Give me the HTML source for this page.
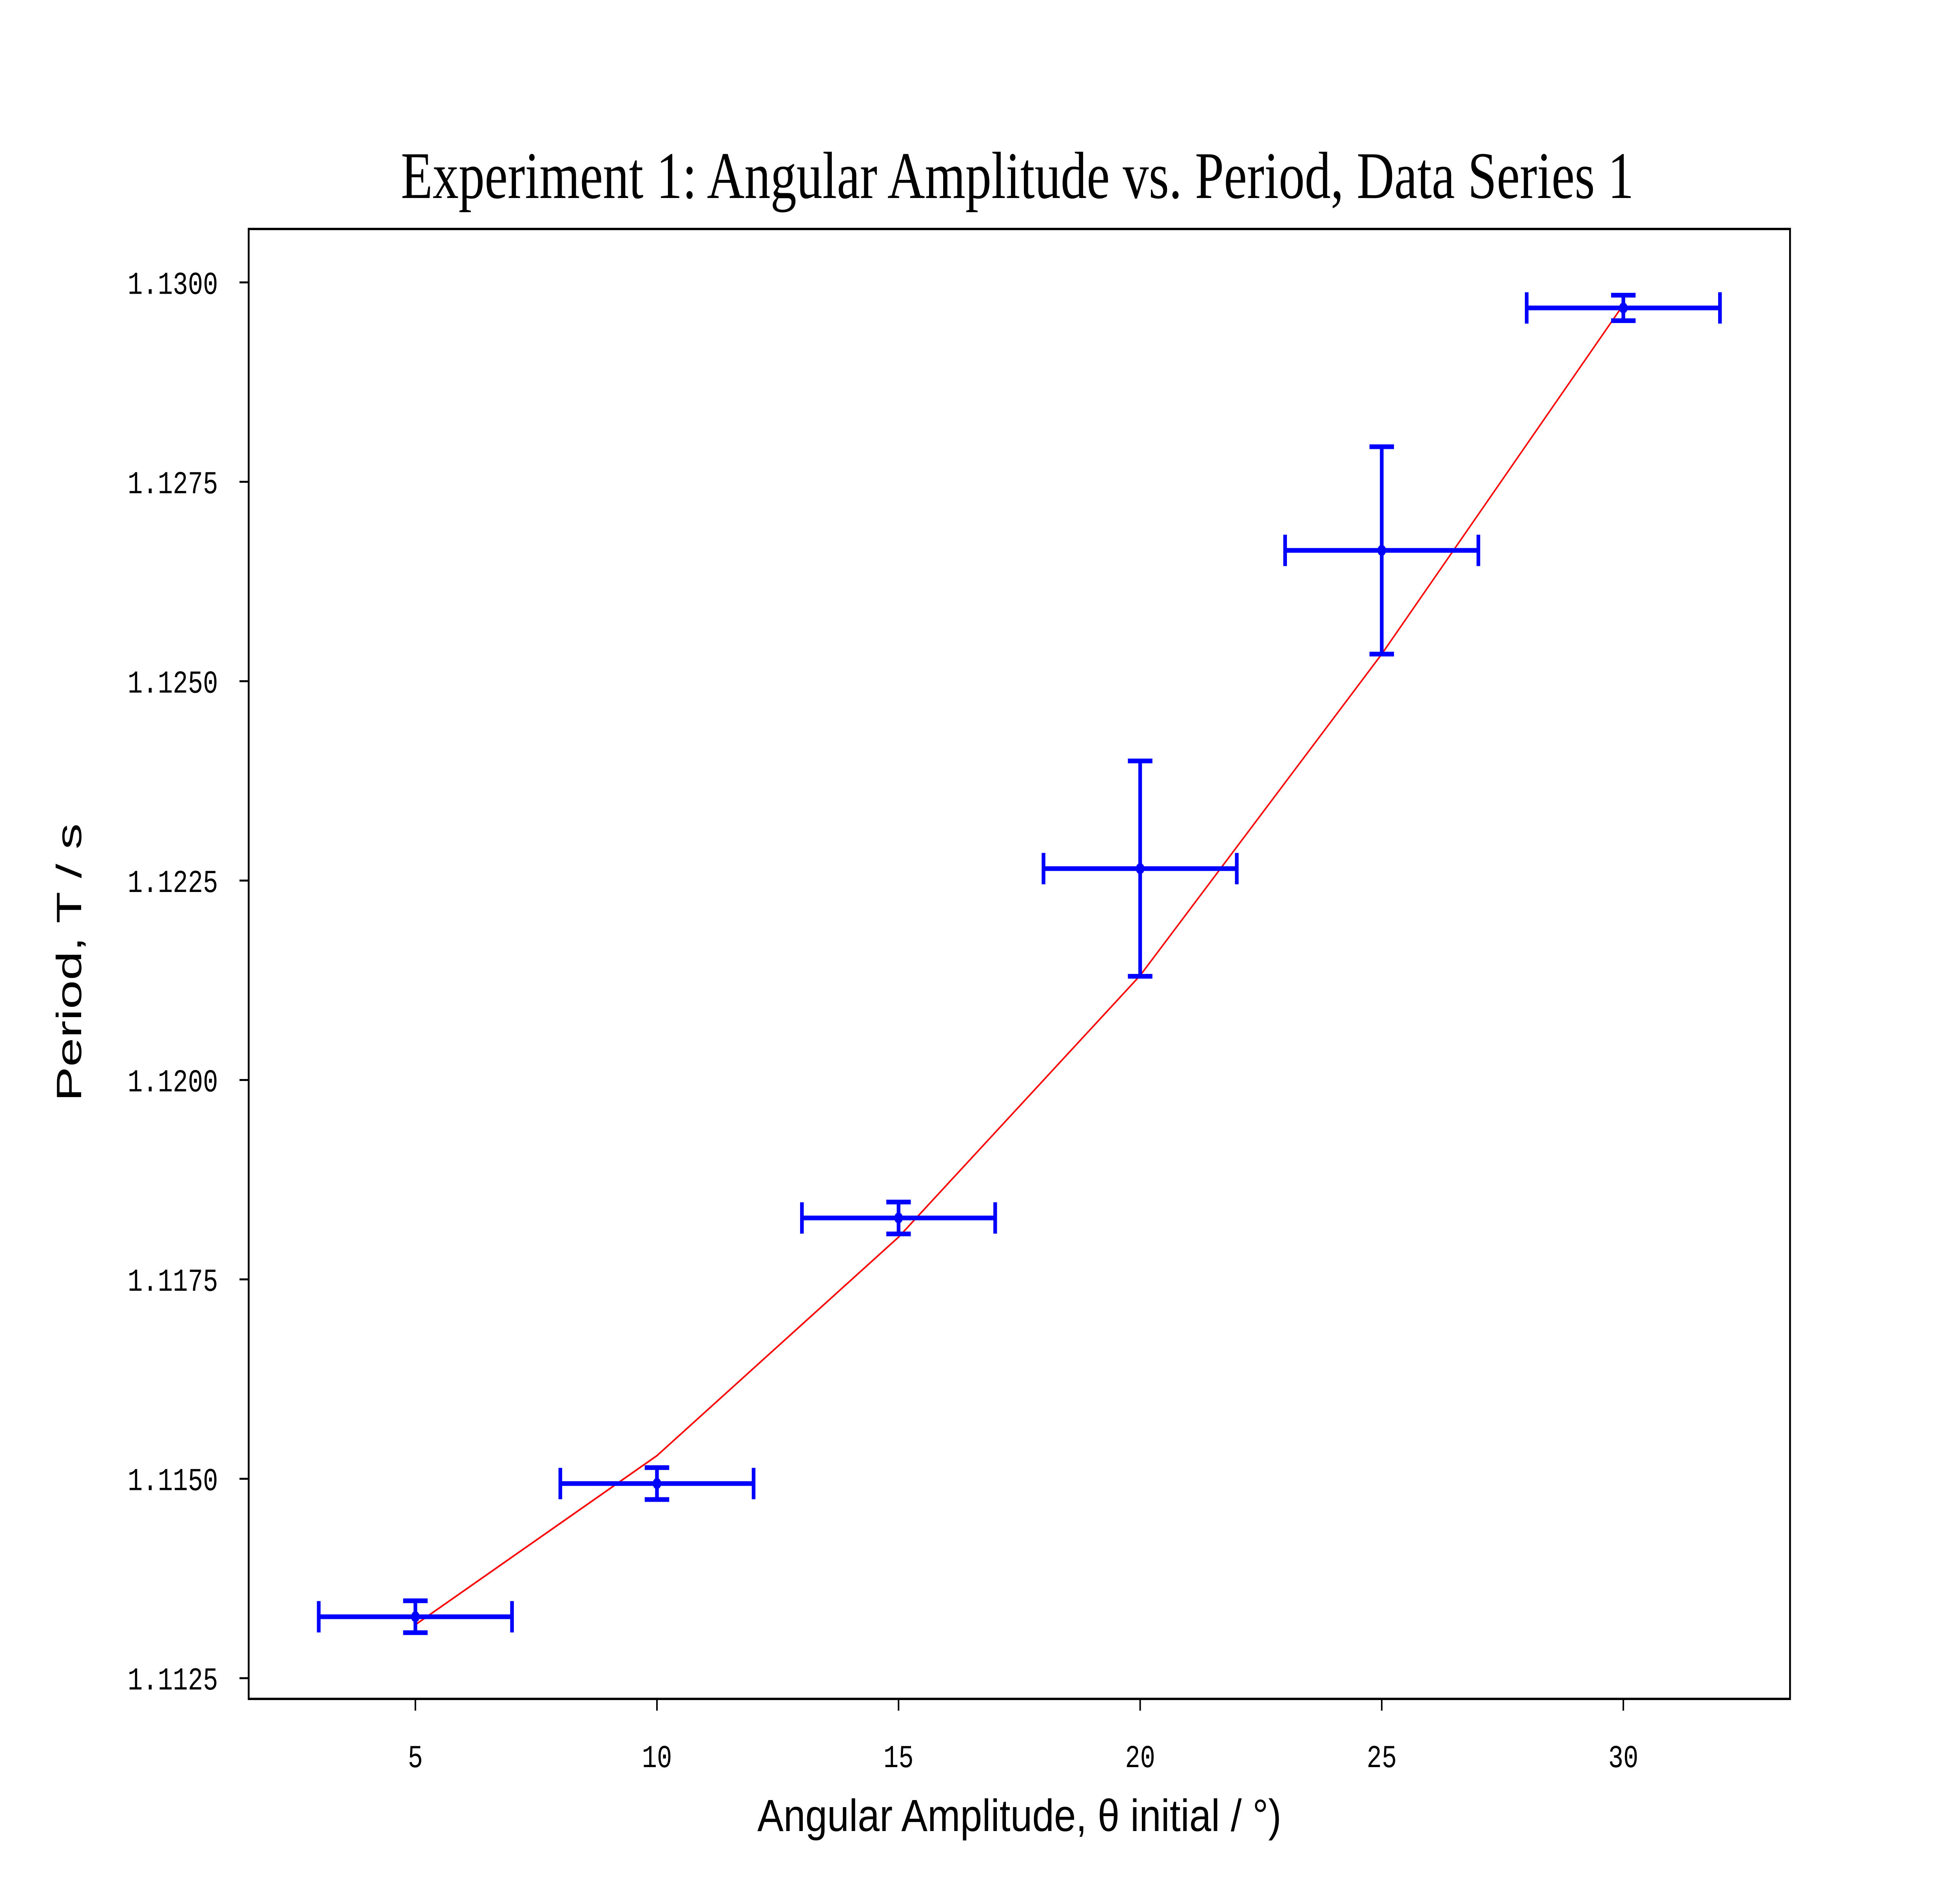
<!DOCTYPE html>
<html><head><meta charset="utf-8"><style>
html,body{margin:0;padding:0;background:#fff;width:100%;height:100%;overflow:hidden;}
svg{display:block;width:100vw;height:100vh;}
</style></head><body>
<svg id="chart" xmlns="http://www.w3.org/2000/svg" viewBox="0 0 6400 4800" preserveAspectRatio="none">
<rect width="6400" height="4800" fill="#fff"/>
<text x="1309" y="505" textLength="4026" lengthAdjust="spacingAndGlyphs" font-family="Liberation Serif, serif" font-size="170">Experiment 1: Angular Amplitude vs. Period, Data Series 1</text>
<g id="plot"></g>
<text x="2473" y="4670" textLength="1711" lengthAdjust="spacingAndGlyphs" font-family="Liberation Sans, DejaVu Sans, sans-serif" font-size="115">Angular Amplitude, θ initial / °)</text>
<text transform="translate(265,2809) rotate(-90)" textLength="709" lengthAdjust="spacingAndGlyphs" font-family="Liberation Sans, DejaVu Sans, sans-serif" font-size="115">Period, T / s</text>
</svg>
<script>
const angles = [5, 10, 15, 20, 25, 30];
const periods = [1.11327, 1.11494, 1.11827, 1.12265, 1.12664, 1.12968];
const periodErr = [0.0002, 0.0002, 0.0002, 0.00135, 0.0013, 0.00016];
const angleErr = [2, 2, 2, 2, 2, 2];
const fitPeriods = [1.11317, 1.11529, 1.11803, 1.12131, 1.12534, 1.12972];
const xTicks = [5, 10, 15, 20, 25, 30];
const yTicks = [1.1125, 1.1150, 1.1175, 1.1200, 1.1225, 1.1250, 1.1275, 1.1300];

const L = 812, R = 5845, T = 584, B = 4333;
const xMin = 1.55, xMax = 33.45, yMin = 1.11224, yMax = 1.13067;
const sx = v => L + (v - xMin) / (xMax - xMin) * (R - L);
const sy = v => B - (v - yMin) / (yMax - yMin) * (B - T);
const NS = 'http://www.w3.org/2000/svg';
const g = document.getElementById('plot');
function mk(tag, attrs, parent) {
  const e = document.createElementNS(NS, tag);
  for (const k in attrs) e.setAttribute(k, attrs[k]);
  (parent || g).appendChild(e);
  return e;
}
xTicks.forEach(v => {
  const t = mk('line', {x1: sx(v), x2: sx(v), y1: B, y2: B + 30, stroke: '#000', 'stroke-width': 5});
  
  
  const l = mk('text', {x: sx(v), y: 4507, 'text-anchor': 'middle', 'font-family': 'Liberation Mono, DejaVu Sans Mono, monospace', 'font-size': 82});
  l.textContent = String(v);
  
  
});
yTicks.forEach(v => {
  const t = mk('line', {x1: L - 30, x2: L, y1: sy(v), y2: sy(v), stroke: '#000', 'stroke-width': 5});
  
  
  const l = mk('text', {x: 712, y: sy(v) + 29, 'text-anchor': 'end', 'font-family': 'Liberation Mono, DejaVu Sans Mono, monospace', 'font-size': 82});
  l.textContent = v.toFixed(4);
  
  
});
const fit = mk('polyline', {points: angles.map((a, i) => sx(a) + ',' + sy(fitPeriods[i])).join(' '), fill: 'none', stroke: '#ff0000', 'stroke-width': 4.5});


angles.forEach((a, i) => {
  const x = sx(a), y = sy(periods[i]);
  const eg = mk('g', {stroke: '#0000ff', 'stroke-width': 12, fill: '#0000ff'});
  
  
  const x0 = sx(a - angleErr[i]), x1 = sx(a + angleErr[i]);
  const y0 = sy(periods[i] - periodErr[i]), y1 = sy(periods[i] + periodErr[i]);
  mk('line', {x1: x0, x2: x1, y1: y, y2: y}, eg);
  mk('line', {x1: x, x2: x, y1: y0, y2: y1}, eg);
  mk('line', {x1: x0, x2: x0, y1: y - 40, y2: y + 40}, eg);
  mk('line', {x1: x1, x2: x1, y1: y - 40, y2: y + 40}, eg);
  mk('line', {x1: x - 40, x2: x + 40, y1: y0, y2: y0}, eg);
  mk('line', {x1: x - 40, x2: x + 40, y1: y1, y2: y1}, eg);
  mk('circle', {cx: x, cy: y, r: 14, stroke: 'none'}, eg);
});
const fr = mk('rect', {x: L, y: T, width: R - L, height: B - T, fill: 'none', stroke: '#000', 'stroke-width': 6});


</script>
</body></html>
